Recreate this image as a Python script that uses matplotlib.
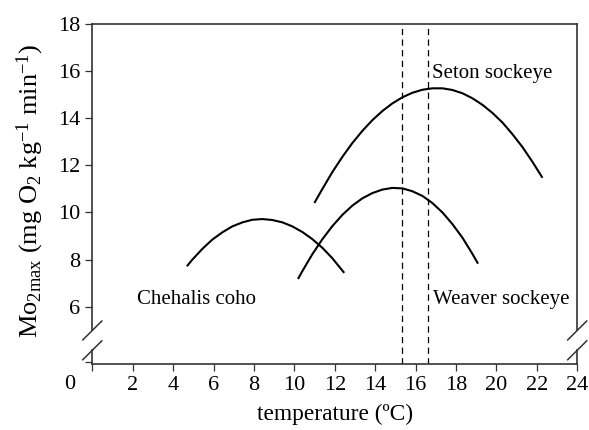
import matplotlib
matplotlib.use("Agg")
import matplotlib.pyplot as plt

plt.rcParams['font.family'] = ['Liberation Serif', 'DejaVu Serif']
plt.rcParams['mathtext.fontset'] = 'custom'
plt.rcParams['mathtext.rm'] = 'Liberation Serif'
plt.rcParams['mathtext.it'] = 'Liberation Serif:italic'

# curves (temperature degC, MO2max)
coho_t = [4.68, 4.95, 5.45, 5.94, 6.44, 6.93, 7.43, 7.92, 8.42, 8.91, 9.41,
          9.9, 10.4, 10.89, 11.39, 11.88, 12.47]
coho_mo2 = [7.72, 8.0, 8.46, 8.85, 9.16, 9.41, 9.58, 9.69, 9.72, 9.68, 9.58,
            9.41, 9.17, 8.87, 8.5, 8.06, 7.44]

seton_t = [10.99, 11.39, 11.88, 12.38, 12.87, 13.37, 13.86, 14.36, 14.85,
           15.35, 15.84, 16.34, 16.83, 17.33, 17.82, 18.32, 18.81, 19.31,
           19.8, 20.3, 20.79, 21.29, 21.78, 22.28]
seton_mo2 = [10.4, 11.0, 11.71, 12.36, 12.94, 13.46, 13.91, 14.3, 14.62,
             14.88, 15.07, 15.2, 15.26, 15.26, 15.19, 15.05, 14.84, 14.56,
             14.22, 13.81, 13.32, 12.77, 12.15, 11.47]

weaver_t = [10.18, 10.4, 10.89, 11.39, 11.88, 12.38, 12.87, 13.37, 13.86,
            14.36, 14.85, 15.35, 15.84, 16.34, 16.83, 17.33, 17.82, 18.32,
            18.81, 19.09]
weaver_mo2 = [7.18, 7.52, 8.23, 8.87, 9.42, 9.9, 10.29, 10.6, 10.82, 10.97,
              11.04, 11.02, 10.9, 10.7, 10.4, 10.0, 9.51, 8.93, 8.25, 7.83]

dashed_t = [15.32, 16.63]

xticks = list(range(2, 25, 2))
yticks = list(range(6, 19, 2))

labels = ["Chehalis coho", "Weaver sockeye", "Seton sockeye"]
label_pos = [(2.2, 6.3), (16.87, 6.3), (16.8, 15.9)]

fig = plt.figure(figsize=(5.89, 4.30), dpi=100)
ax = fig.add_axes([0.1567, 0.153, 0.8233, 0.792])

for t, m in [(coho_t, coho_mo2), (seton_t, seton_mo2), (weaver_t, weaver_mo2)]:
    ax.plot(t, m, color='black', lw=1.5, solid_capstyle='butt')

for d in dashed_t:
    ax.axvline(d, color='black', lw=0.9, ls=(0, (5, 3.5)))

for txt, (x, y) in zip(labels, label_pos):
    ax.text(x, y, txt, fontsize=15, va='center', ha='left')

ax.set_xlim(0, 24)
ax.set_ylim(3.57, 18)
ax.set_xticks([0] + xticks)
ax.set_xticklabels([''] + [str(v) for v in xticks])
ax.set_yticks([3.65] + yticks)
ax.set_yticklabels([''] + [str(v) for v in yticks])
ax.tick_params(labelsize=16, direction='out', length=5, width=0.9, color='#333333')
ax.text(-1.1, 3.12, "0", fontsize=16, ha='center', va='top')

# broken y axis on both sides
for side in ['left', 'right']:
    ax.spines[side].set_visible(False)
for side in ['top', 'bottom']:
    ax.spines[side].set_color('#333333')
    ax.spines[side].set_linewidth(1.2)
for xs in [0, 24]:
    ax.plot([xs, xs], [5.0, 18], color='#333333', lw=1.2, clip_on=False)
    ax.plot([xs, xs], [3.57, 4.16], color='#333333', lw=1.2, clip_on=False)
    for yc in [5.0, 4.16]:
        ax.plot([xs - 0.47, xs + 0.47], [yc - 0.4, yc + 0.4],
                color='#333333', lw=1.1, clip_on=False)

ax.set_xlabel("temperature (ºC)", fontsize=16.8, labelpad=6)
ax.set_ylabel(r"Mo$_{2\mathrm{max}}$ (mg O$_2$ kg$^{-1}$ min$^{-1}$)",
              fontsize=19)
ax.yaxis.set_label_coords(-0.095, 0.51)

fig.savefig("out.png", dpi=100)
